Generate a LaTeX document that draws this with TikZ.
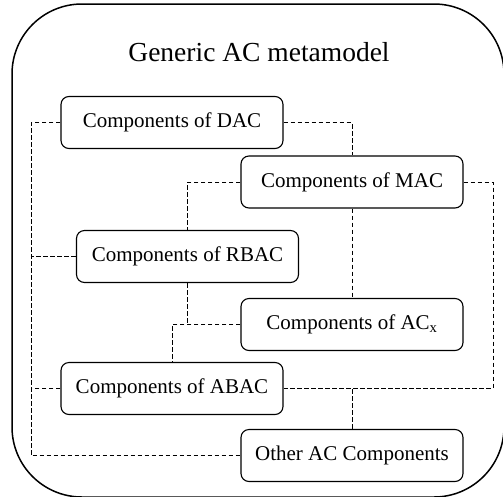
\documentclass[tikz,border=0pt]{standalone}
\usepackage{fontspec}
\setmainfont{Liberation Serif}
\begin{document}
\begin{tikzpicture}[x=1pt,y=-1pt,
  compbox/.style={draw, line width=1.1pt, rounded corners=8pt,
    minimum width=222pt, minimum height=52pt, inner sep=0pt,
    font=\fontsize{21}{25}\selectfont},
  conn/.style={line width=0.8pt, dash pattern=on 4.5pt off 2.5pt}]
\useasboundingbox (0,0) rectangle (503,496);
% outer frame of the metamodel
\draw[line width=1.5pt, rounded corners=70pt] (12,4) rectangle (504,497);
\node (title) at (259,52) {\fontsize{27.5}{32}\selectfont Generic AC metamodel};
% component boxes
\node[compbox] (dac)   at (172,122.5) {Components of DAC};
\node[compbox] (mac)   at (352,182)   {Components of MAC};
\node[compbox] (rbac)  at (187.5,256.5) {Components of RBAC};
\node[compbox] (acx)   at (352,324.5) {Components of AC\textsubscript{x}};
\node[compbox] (abac)  at (172,388.5) {Components of ABAC};
\node[compbox] (other) at (352,455.5) {Other AC Components};
% bus lines on the left and right
\coordinate (lx) at (31,0);
\coordinate (rx) at (493,0);
% dashed links
\draw[conn] (dac.west) -| (lx |- other.west) -- (other.west);
\draw[conn] (rbac.west) -- (lx |- rbac.west);
\draw[conn] (abac.west) -- (lx |- abac.west);
\draw[conn] (dac.east) -| (mac.north);
\draw[conn] (mac.west) -| (rbac.north);
\draw[conn] (mac.east) -| (rx |- abac.east) -- (abac.east);
\draw[conn] (other.north) -- (other.north |- abac.east);
\draw[conn] (mac.south) -- (acx.north);
\draw[conn] (acx.west) -| (abac.north);
\draw[conn] (rbac.south) -- (rbac.south |- acx.west);
\end{tikzpicture}
\end{document}
